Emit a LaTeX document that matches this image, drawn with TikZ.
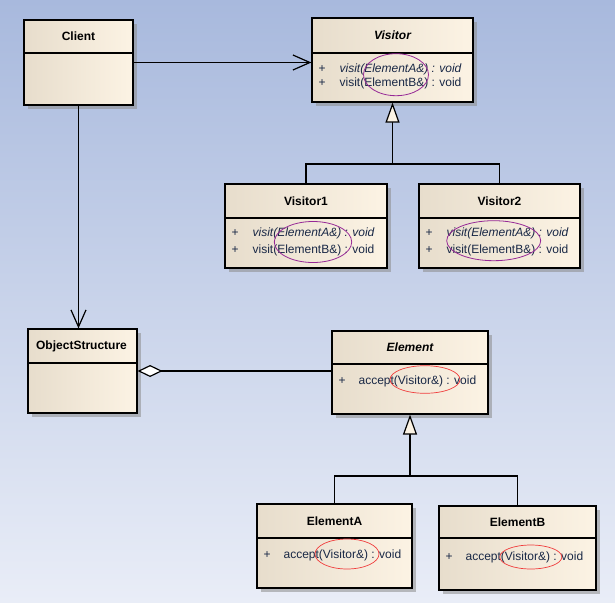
\documentclass[tikz,border=0pt]{standalone}
\usepackage{fontspec}
\setmainfont{Liberation Sans}
\usetikzlibrary{arrows.meta,shadows}

\definecolor{bgtop}{RGB}{168,185,221}
\definecolor{bgbottom}{RGB}{233,237,247}
\definecolor{boxleft}{RGB}{231,221,204}
\definecolor{boxright}{RGB}{252,243,228}
\definecolor{optext}{RGB}{25,40,70}
\definecolor{visitring}{RGB}{150,40,150}
\definecolor{acceptring}{RGB}{240,60,60}

\tikzset{
  classbox/.style={draw=black, line width=1.2pt, inner sep=0pt,
    left color=boxleft, right color=boxright,
    drop shadow={fill=black!45, opacity=0.55, shadow xshift=4pt, shadow yshift=-4pt}},
  classname/.style={font=\fontsize{12}{14}\selectfont\bfseries, inner sep=0pt},
  absname/.style={font=\fontsize{12}{14}\selectfont\bfseries\itshape, inner sep=0pt},
  member/.style={anchor=west, inner sep=0pt, text=optext},
  absmember/.style={member, font=\fontsize{12}{14}\selectfont\itshape},
  visitmark/.style={draw=visitring, line width=0.8pt},
  acceptmark/.style={draw=acceptring, line width=0.7pt},
  uses/.style={-{Straight Barb[length=17pt,width=15pt]}},
  inherits/.style={-{Triangle[open, fill=boxright, length=20pt, width=14pt]}},
  holds/.style={{Diamond[open, fill=white, length=25pt, width=12pt]}-}
}

\begin{document}
\begin{tikzpicture}[x=1pt, y=-1pt, line width=1.2pt,
    font=\fontsize{12}{14}\selectfont]
    % Background
    \shade[top color=bgtop, bottom color=bgbottom] (0,0) rectangle (615,602);
    \useasboundingbox (0,0) rectangle (615,602);

    % Client
    \node[classbox, minimum width=109pt, minimum height=85pt] (client) at (78.5,62.5) {};
    \draw (client.west |- 0,53) -- (client.east |- 0,53);
    \node[classname] (clientname) at (78.5,36.5) {Client};

    % Visitor
    \node[classbox, minimum width=161pt, minimum height=84pt] (visitor) at (392.5,60) {};
    \draw (visitor.west |- 0,53) -- (visitor.east |- 0,53);
    \node[absname] (visitorname) at (392.5,35.5) {Visitor};
    \node[member] (visitorplusa) at (318,69) {+};
    \node[absmember] (visitorvisita) at (339,69) {visit(ElementA\&) : void};
    \node[member] (visitorplusb) at (318,83) {+};
    \node[member] (visitorvisitb) at (339,83) {visit(ElementB\&) : void};
    \draw[visitmark] (396,74.7) ellipse [x radius=32.5, y radius=21];

    % Visitor1
    \node[classbox, minimum width=162pt, minimum height=84pt] (visitorone) at (306,226) {};
    \draw (visitorone.west |- 0,218) -- (visitorone.east |- 0,218);
    \node[classname] (visitoronename) at (306,201) {Visitor1};
    \node[member] (visitoroneplusa) at (231,233) {+};
    \node[absmember] (visitoronevisita) at (252,233) {visit(ElementA\&) : void};
    \node[member] (visitoroneplusb) at (231,250) {+};
    \node[member] (visitoronevisitb) at (252,250) {visit(ElementB\&) : void};
    \draw[visitmark] (313,242) ellipse [x radius=38.7, y radius=20.5];

    % Visitor2
    \node[classbox, minimum width=161pt, minimum height=84pt] (visitortwo) at (499.5,226) {};
    \draw (visitortwo.west |- 0,218) -- (visitortwo.east |- 0,218);
    \node[classname] (visitortwoname) at (499.5,201) {Visitor2};
    \node[member] (visitortwoplusa) at (425,233) {+};
    \node[absmember] (visitortwovisita) at (446,233) {visit(ElementA\&) : void};
    \node[member] (visitortwoplusb) at (425,250) {+};
    \node[member] (visitortwovisitb) at (446,250) {visit(ElementB\&) : void};
    \draw[visitmark] (493.7,240.7) ellipse [x radius=47, y radius=20];

    % ObjectStructure
    \node[classbox, minimum width=109pt, minimum height=84pt] (objstruct) at (82.5,371) {};
    \draw (objstruct.west |- 0,363) -- (objstruct.east |- 0,363);
    \node[classname] (objstructname) at (81.5,346) {ObjectStructure};

    % Element
    \node[classbox, minimum width=156pt, minimum height=83pt] (element) at (410,372.5) {};
    \draw (element.west |- 0,364) -- (element.east |- 0,364);
    \node[absname] (elementname) at (410,347.5) {Element};
    \node[member] (elementplus) at (338,381) {+};
    \node[member] (elementaccept) at (358,381) {accept(Visitor\&) : void};
    \draw[acceptmark] (425,379.5) ellipse [x radius=35, y radius=13.8];

    % ElementA
    \node[classbox, minimum width=155pt, minimum height=84pt] (elementa) at (334.5,546) {};
    \draw (elementa.west |- 0,538) -- (elementa.east |- 0,538);
    \node[classname] (elementaname) at (334.5,521) {ElementA};
    \node[member] (elementaplus) at (263,555) {+};
    \node[member] (elementaaccept) at (283,555) {accept(Visitor\&) : void};
    \draw[acceptmark] (347,554) ellipse [x radius=32, y radius=15];

    % ElementB
    \node[classbox, minimum width=157pt, minimum height=84pt] (elementb) at (517.5,548) {};
    \draw (elementb.west |- 0,538) -- (elementb.east |- 0,538);
    \node[classname] (elementbname) at (517.5,522) {ElementB};
    \node[member] (elementbplus) at (445,557) {+};
    \node[member] (elementbaccept) at (465,557) {accept(Visitor\&) : void};
    \draw[acceptmark] (530.8,557) ellipse [x radius=31, y radius=12];

    % Associations
    \draw[uses] (client.east) -- (client.east -| visitor.west);
    \draw[uses] (client.south) -- (client.south |- objstruct.north);
    \draw[holds] (objstruct.east) -- (objstruct.east -| element.west);

    % Generalizations
    \coordinate (visitorjoin) at (392.5,164);
    \draw (visitorone.north) |- (visitorjoin);
    \draw (visitortwo.north) |- (visitorjoin);
    \draw[inherits] (visitorjoin) -- (visitor.south);
    \coordinate (elementjoin) at (410,476);
    \draw (elementa.north) |- (elementjoin);
    \draw (elementb.north) |- (elementjoin);
    \draw[inherits] (elementjoin) -- (element.south);
\end{tikzpicture}
\end{document}
